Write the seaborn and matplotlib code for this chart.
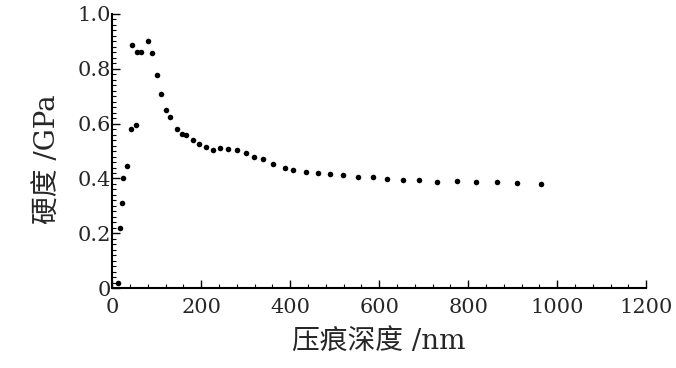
import numpy as np
import pandas as pd
import matplotlib
matplotlib.use("Agg")
import matplotlib.pyplot as plt
import seaborn as sns
from matplotlib.ticker import MultipleLocator, FixedLocator

# indentation depth (nm) and hardness (GPa)
depth = [12, 18, 22, 25, 34, 43, 54, 45, 56, 65, 81, 90, 101, 110, 121, 130,
         146, 157, 166, 182, 196, 211, 227, 243, 261, 281, 301, 319, 339,
         362, 389, 407, 436, 463, 490, 519, 553, 587, 618, 654, 690, 730,
         775, 818, 865, 910, 964]
hardness = [0.02, 0.219, 0.31, 0.40, 0.445, 0.58, 0.595, 0.887, 0.861, 0.861,
            0.901, 0.858, 0.777, 0.708, 0.65, 0.624, 0.58, 0.562, 0.558,
            0.54, 0.526, 0.515, 0.504, 0.511, 0.507, 0.504, 0.493, 0.478,
            0.471, 0.453, 0.438, 0.431, 0.423, 0.42, 0.416, 0.412, 0.405,
            0.405, 0.398, 0.394, 0.394, 0.387, 0.39, 0.387, 0.387, 0.383,
            0.38]

x_ticks = [0, 200, 400, 600, 800, 1000, 1200]
y_ticks = [0, 0.2, 0.4, 0.6, 0.8, 1.0]
y_tick_labels = ["0", "0.2", "0.4", "0.6", "0.8", "1.0"]

df = pd.DataFrame({"depth": depth, "hardness": hardness})

sns.set_style("ticks")
plt.rcParams['font.family'] = ['DejaVu Serif', 'Noto Sans CJK SC']

fig = plt.figure(figsize=(6.76, 3.68), dpi=100)
ax = fig.add_axes([0.166, 0.217, 0.790, 0.745])

sns.scatterplot(data=df, x="depth", y="hardness", ax=ax, color="black",
                s=16, linewidth=0, legend=False)

ax.set_xlim(0, 1200)
ax.set_ylim(0, 1.0)
ax.xaxis.set_major_locator(FixedLocator(x_ticks))
ax.xaxis.set_minor_locator(MultipleLocator(40))
ax.yaxis.set_major_locator(FixedLocator(y_ticks))
ax.yaxis.set_minor_locator(MultipleLocator(0.02))
ax.set_xticklabels([str(t) for t in x_ticks])
ax.set_yticklabels(y_tick_labels)

ax.tick_params(axis="both", which="major", direction="in", length=6,
               width=1.0, labelsize=15, color="black")
ax.tick_params(axis="x", which="major", pad=7)
ax.tick_params(axis="y", which="major", pad=1)
ax.tick_params(axis="both", which="minor", direction="in", length=3,
               width=0.8, color="black")

for side in ["top", "right"]:
    ax.spines[side].set_visible(False)
for side in ["left", "bottom"]:
    ax.spines[side].set_linewidth(1.5)
    ax.spines[side].set_color("black")

ax.set_xlabel("压痕深度 /nm", fontsize=20)
ax.set_ylabel("硬度 /GPa", fontsize=20)
ax.xaxis.set_label_coords(0.5, -0.15)
ax.yaxis.set_label_coords(-0.095, 0.47)

fig.savefig("out.png", dpi=100, facecolor="white")
